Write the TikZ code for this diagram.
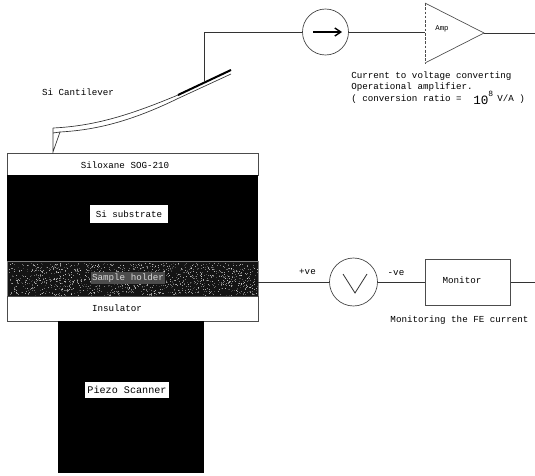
\documentclass[tikz,border=0pt]{standalone}
\usepackage{fontspec}
\usetikzlibrary{arrows.meta}
\setmainfont{Liberation Mono}
\begin{document}
\begin{tikzpicture}[x=0.75pt,y=-0.75pt,
  lbl/.style={font=\fontsize{6.9pt}{8.4pt}\selectfont,inner sep=0pt,text=black},
  wire/.style={draw=black!80,line width=0.55pt},
  layer/.style={draw=black!70,line width=0.5pt,fill=white,rectangle,inner sep=0pt,minimum width=188.25pt},
  solid block/.style={fill=black,rectangle,inner sep=0pt},
  meter/.style={circle,draw=black!75,line width=0.5pt,inner sep=0pt,fill=white},
  tag/.style={lbl,fill=white,inner sep=0pt,text=black}]
\useasboundingbox (0,0) rectangle (535,475);
% stack
\node[layer,minimum height=16.5pt] (sog) at (132.5,164) {};
\node[solid block,minimum width=188.25pt,minimum height=65.25pt] (si) at (132.5,218.5) {};
\node[solid block,fill=black!92,minimum width=187.5pt,minimum height=25.5pt] (holder) at (133,279) {};
\pgfmathsetseed{4217}
\foreach \i in {1,...,1300}{
  \pgfmathsetmacro{\px}{9+rnd*248}
  \pgfmathsetmacro{\py}{263+rnd*32}
  \pgfmathsetmacro{\pg}{15+rnd*55}
  \fill[white,opacity=\pg/100] (\px,\py) rectangle +(1,1);
}
\draw[black!50,line width=0.6pt] (holder.north west) rectangle (holder.south east);
\node[layer,minimum height=18.75pt] (ins) at (133,308.5) {};
\node[solid block,minimum width=109.5pt,minimum height=114pt] (piezo) at (131,397) {};
% labels in the stack
\node[lbl] (tsog) at (125,165.5) {Siloxane SOG-210};
\node[tag,minimum width=58.5pt,minimum height=14pt] (tsi) at (129,214) {Si substrate};
\node[lbl,text=black!15,fill=black!70,inner sep=1pt] (tholder) at (128,278) {Sample holder};
\node[lbl] (tins) at (117,308.5) {Insulator};
\node[tag,font=\fontsize{7.6pt}{9pt}\selectfont,minimum width=63pt,minimum height=12pt] (tpiezo) at (127,390) {Piezo Scanner};
% cantilever
\coordinate (tip) at (53,152);
\coordinate (cl) at (53,128);
\coordinate (cr) at (60,132);
\coordinate (ct) at (231,70);
\coordinate (cb) at (231,74);
\coordinate (pad) at (178,95);
\coordinate (tap) at (204,82);
\draw[black!80,line width=0.5pt] (cl) .. controls (95,126) and (130,115) .. (pad) -- (ct);
\draw[black!80,line width=0.5pt] (cr) .. controls (95,130) and (130,122) .. (179,98) -- (cb);
\draw[black!80,line width=0.5pt] (cl) -- (tip) -- (cr) -- (53,133);
\draw[black,line width=1.5pt] (pad) -- (ct);
\node[lbl] (tcant) at (78,92) {Si Cantilever};
% current meter and amplifier
\node[meter,minimum size=34.5pt] (am) at (325.5,32) {};
\coordinate (arrL) at (313,32);
\coordinate (arrR) at (342,32);
\draw[black,line width=1pt,-{Straight Barb[length=4.5pt,width=6pt]}] (arrL) -- (arrR);
\coordinate (corner) at (204,32);
\draw[wire] (tap) -- (corner) -- (am.west);
\coordinate (a1) at (425,3);
\coordinate (a2) at (425,63);
\coordinate (a3) at (484,33);
\coordinate (ain) at (425,32);
\coordinate (aout) at (535,33);
\draw[black!70,line width=0.5pt] (a2) -- (a3) -- (a1);
\draw[black!70,line width=0.5pt,dash pattern=on 2pt off 1.2pt] (a1) -- (a2);
\draw[wire] (am.east) -- (ain);
\draw[wire] (a3) -- (aout);
\node[lbl,font=\fontsize{5.5pt}{6pt}\selectfont] (tamp) at (442,29) {Amp};
\node[lbl,anchor=west] (t1) at (351,76) {Current to voltage converting};
\node[lbl,anchor=west] (t2) at (351,87.5) {Operational amplifier.};
\node[lbl,anchor=west] (t3) at (351,99) {( conversion ratio =};
\node[lbl,anchor=west,font=\fontsize{9.5pt}{10pt}\selectfont] (t4) at (473,100) {10};
\node[lbl,anchor=west,font=\fontsize{6pt}{7pt}\selectfont] (t5) at (488,94) {8};
\node[lbl,anchor=west] (t6) at (497,99) {V/A )};
% voltage source and monitor
\node[meter,minimum size=36pt] (vm) at (353.5,282) {};
\coordinate (v1) at (343,274);
\coordinate (v2) at (355,293);
\coordinate (v3) at (367,274);
\draw[black!80,line width=0.6pt] (v1) -- (v2) -- (v3);
\node[rectangle,draw=black!70,line width=0.5pt,minimum width=64pt,minimum height=34.5pt,inner sep=0pt] (mon) at (467.5,282) {};
\node[lbl] (tmon) at (462,280) {Monitor};
\coordinate (outm) at (535,282);
\draw[wire] (holder.east |- vm.west) -- (vm.west);
\draw[wire] (vm.east) -- (mon.west);
\draw[wire] (mon.east) -- (outm);
\node[lbl] (tp) at (307.5,272) {+ve};
\node[lbl] (tn) at (396,273) {-ve};
\node[lbl] (tmf) at (459.5,320) {Monitoring the FE current};
\end{tikzpicture}
\end{document}
